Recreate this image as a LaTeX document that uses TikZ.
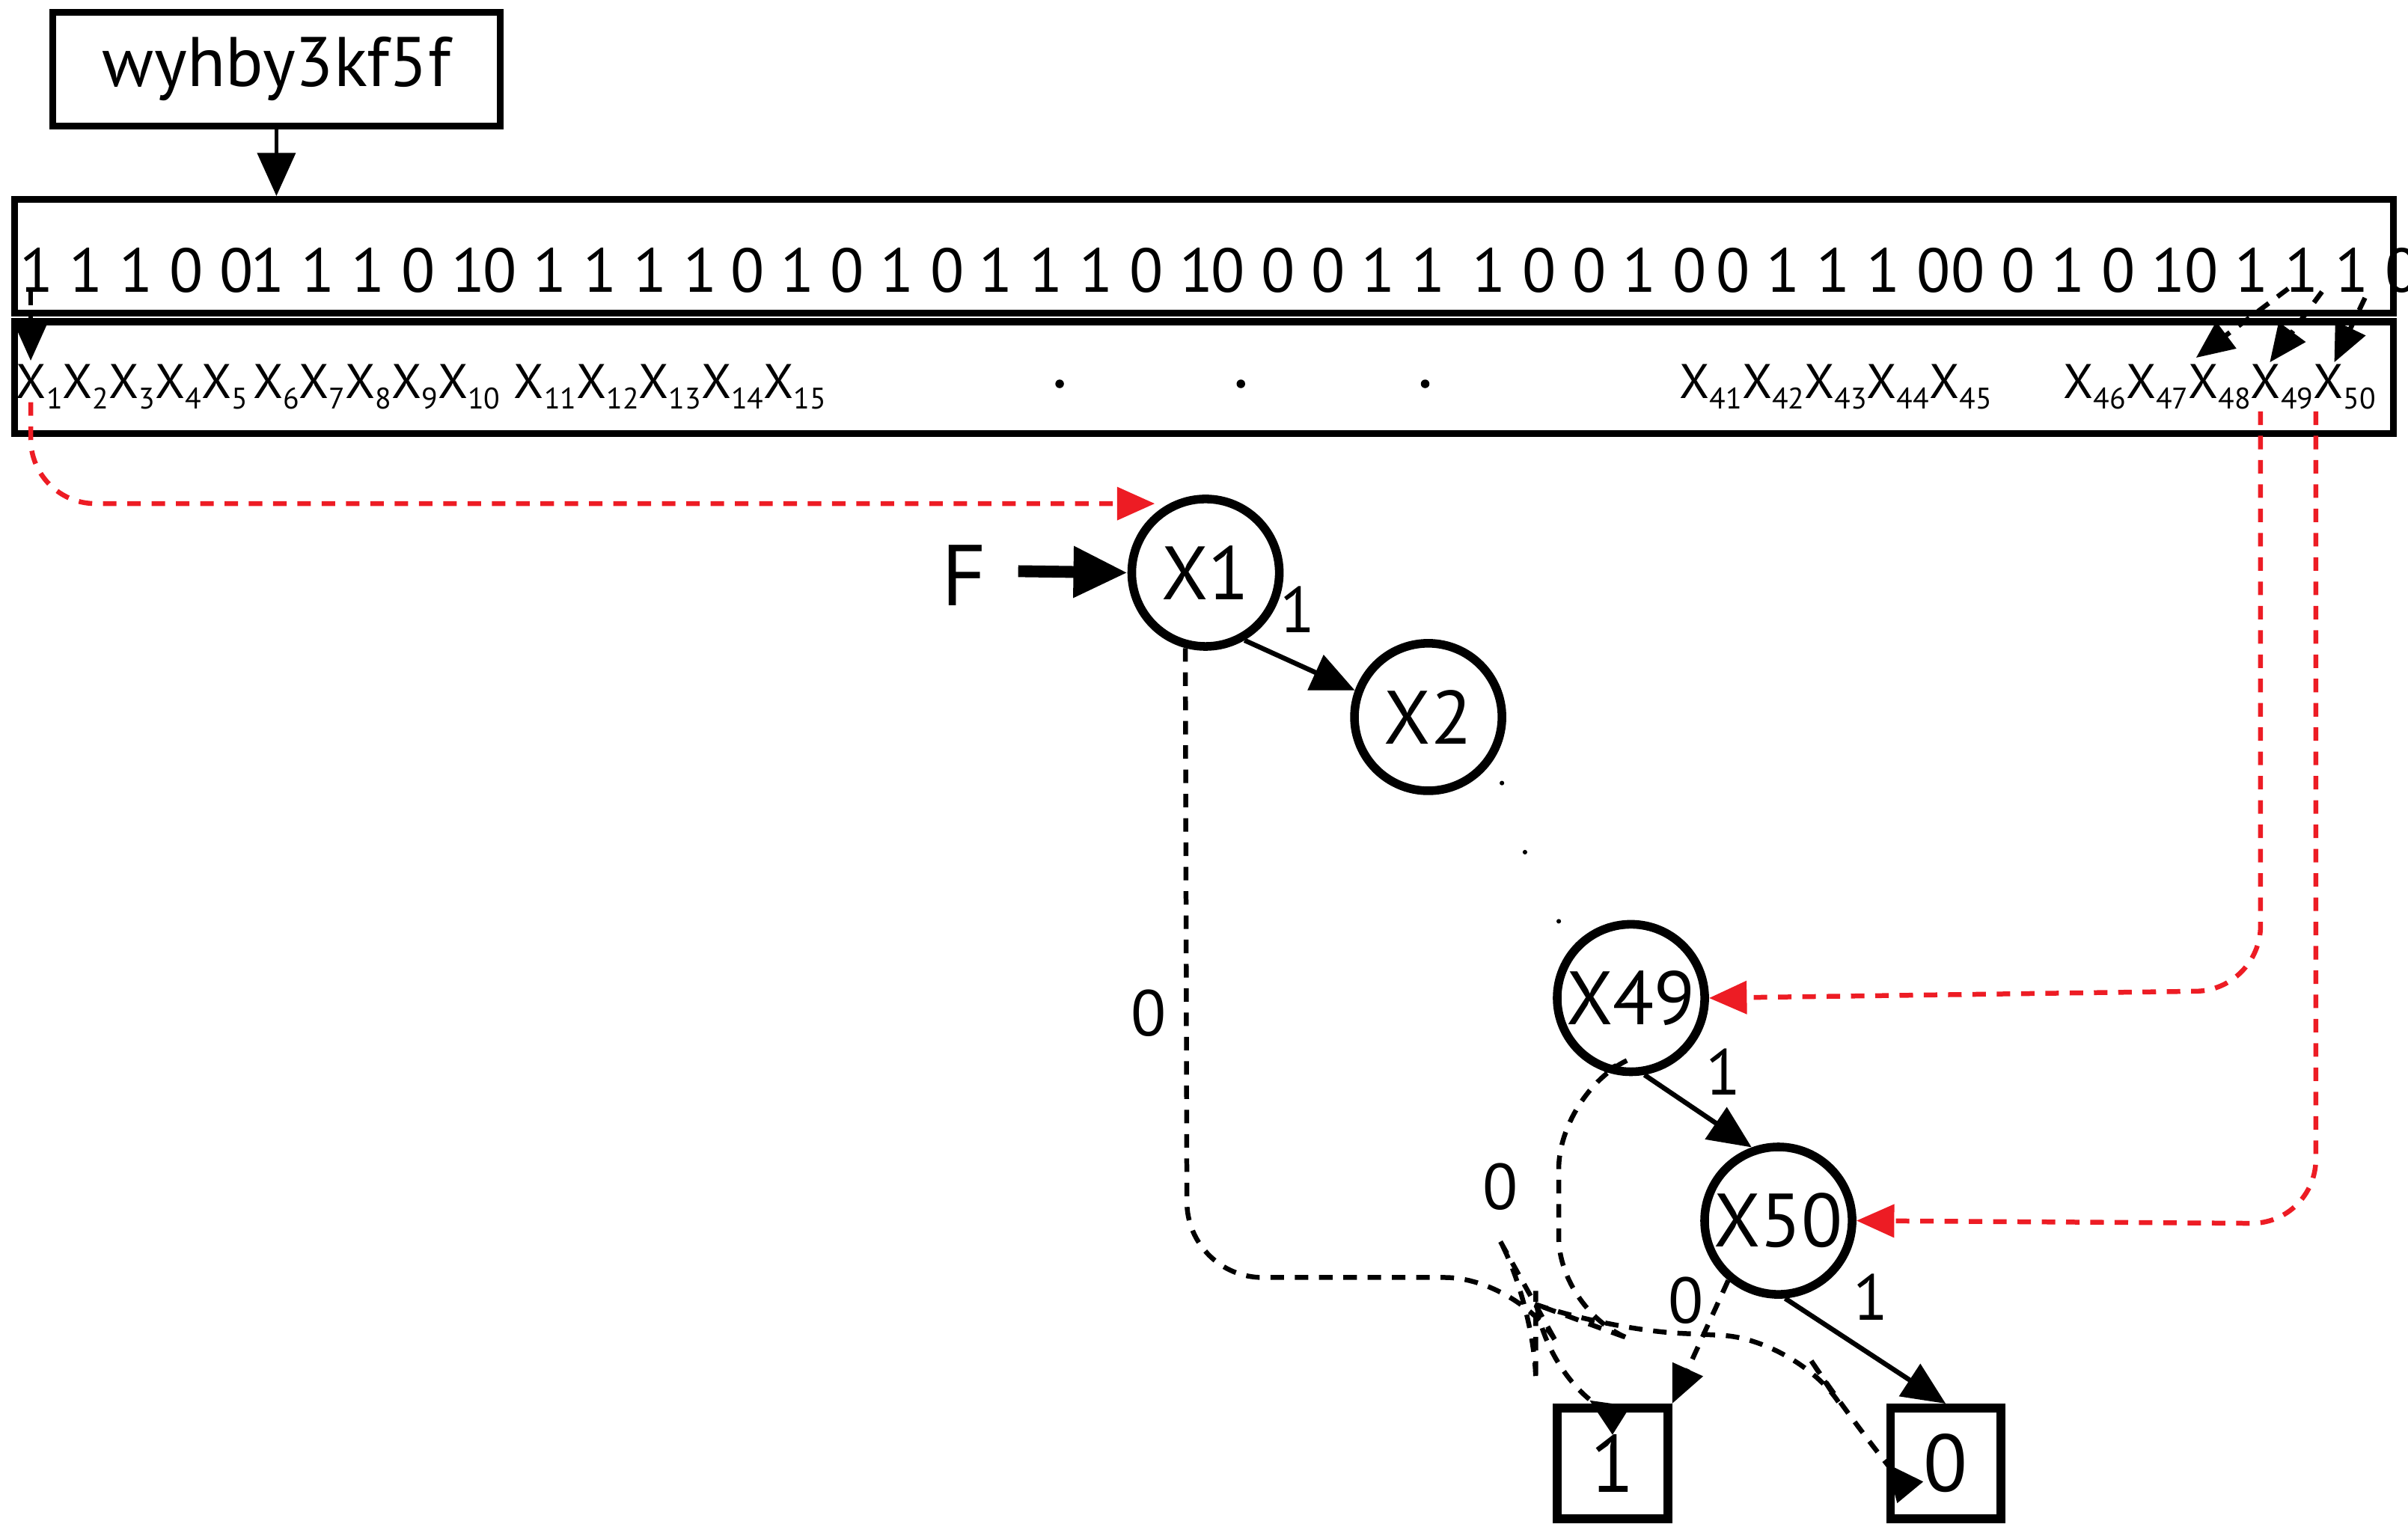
\documentclass[tikz,border=0pt]{standalone}
\usepackage{fontspec}
\setmainfont{PT Sans}
\usetikzlibrary{arrows.meta}
\definecolor{myred}{RGB}{237,28,36}
\newcommand{\xv}[1]{X\raisebox{-0.45ex}{\fontsize{5.5}{5.5}\selectfont #1}}
\newcommand{\bg}[5]{#1\kern3pt#2\kern3pt#3\kern3pt#4\kern3pt#5}
\begin{document}
\begin{tikzpicture}[x=0.01cm,y=-0.01cm,
  frame/.style={draw,line width=1.3pt},
  bnode/.style={circle,draw,line width=1.6pt,minimum size=0.96cm,inner sep=0pt,font=\fontsize{14}{14}\selectfont},
  leaf/.style={draw,line width=1.6pt,minimum size=0.72cm,inner sep=0pt,font=\fontsize{15}{15}\selectfont},
  dsh/.style={line width=0.9pt,dash pattern=on 2.5pt off 2pt,-{Triangle[length=7pt,width=6pt]}},
  rdsh/.style={line width=0.9pt,dash pattern=on 2.5pt off 2pt,draw=myred,-{Triangle[length=7pt,width=6pt,fill=myred]}},
  sld/.style={line width=0.9pt,-{Triangle[length=8pt,width=7pt]}},
  lab/.style={font=\fontsize{12}{12}\selectfont},
  bits/.style={font=\fontsize{11.5}{11.5}\selectfont,inner sep=0pt,anchor=west},
  xs/.style={font=\fontsize{9}{9}\selectfont,inner sep=0pt,anchor=west}]
\useasboundingbox (0,0) rectangle (1568,998);
\node[frame,minimum width=2.91cm,minimum height=0.74cm,font=\fontsize{13}{13}\selectfont] (key) at (180,45) {wyhby3kf5f};
\node[frame,minimum width=15.48cm,minimum height=0.74cm] (bitsbox) at (784,167) {};
\node[frame,minimum width=15.48cm,minimum height=0.73cm] (xrow) at (784,246) {};
\draw[sld,line width=0.8pt] (key.south) -- (bitsbox.north -| key.south);
\node[bits] (b1) at (12,176) {\bg11100};
\node[bits] (b2) at (163,176) {\bg11101};
\node[bits] (b3) at (314,176) {\bg01111};
\node[bits] (b4) at (475,176) {\bg01010};
\node[bits] (b5) at (637,176) {\bg11101};
\node[bits] (b6) at (788,176) {\bg00011};
\node[bits] (b7) at (958,176) {\bg10010};
\node[bits] (b8) at (1117,176) {\bg01110};
\node[bits] (b9) at (1270,176) {\bg00101};
\node[bits] (b10) at (1422,176) {\bg01110};
\node[xs] (g1) at (10,252) {\xv1\xv2\xv3\xv4\xv5};
\node[xs] (g2) at (164,252) {\xv6\xv7\xv8\xv9\xv{10}};
\node[xs] (g3) at (334,252) {\xv{11}\xv{12}\xv{13}\xv{14}\xv{15}};
\node[xs] (g4) at (1093,252) {\xv{41}\xv{42}\xv{43}\xv{44}\xv{45}};
\node[xs] (g5) at (1343,252) {\xv{46}\xv{47}\xv{48}\xv{49}\xv{50}};
\foreach \x in {690,808,928}{\fill (\x,250) circle (2.8);}
\coordinate (c1) at (20,190); \coordinate (c1b) at (20,235);
\draw[dsh] (c1) -- (c1b);
\coordinate (p1) at (1490,188); \coordinate (q1) at (1430,233);
\coordinate (p2) at (1512,190); \coordinate (q2) at (1478,236);
\coordinate (p3) at (1540,194); \coordinate (q3) at (1520,236);
\draw[dsh] (p1) -- (q1); \draw[dsh] (p2) -- (q2); \draw[dsh] (p3) -- (q3);
\node[bnode] (x1) at (785,373) {X1};
\node[bnode] (x2) at (930,467) {X2};
\node[bnode] (x49) at (1062,650) {X49};
\node[bnode] (x50) at (1158,795) {X50};
\node[leaf] (one) at (1050,953) {1};
\node[leaf] (zero) at (1267,953) {0};
\node[font=\fontsize{16}{16}\selectfont] (F) at (628,375) {F};
\coordinate (fs) at (663,372);
\draw[line width=2.2pt,-{Triangle[length=10pt,width=9pt]}] (fs) -- (x1.west);
\coordinate (r1) at (20,262);
\draw[rdsh,rounded corners=12] (r1) -- (20,328) -- (752,328);
\coordinate (r49) at (1472,268); \coordinate (r50) at (1508,268);
\draw[rdsh,rounded corners=12] (r49) -- (1472,645) -- (x49.east);
\draw[rdsh,rounded corners=12] (r50) -- (1508,797) -- (x50.east);
\draw[sld] (x1.-60) -- (x2.160);
\node[lab] at (845,397) {1};
\foreach \p in {(978,510),(993,555),(1015,600)} \fill \p circle (1.5);
\draw[dsh,rounded corners=14] (x1.-105) -- (773,832) -- (990,832) -- (1000,850) -- (1000,890) -- (1035,912);
\node[lab] at (748,660) {0};
\draw[sld] (x49.-80) -- (x50.110);
\node[lab] at (1122,698) {1};
\draw[dsh,rounded corners=14] (x49.-110) -- (1015,712) -- (1015,855) -- (1045,866) -- (1170,872) -- (1205,925) -- (zero.west);
\node[lab] at (977,773) {0};
\draw[dsh] (x50.-130) -- (one.north east);
\node[lab] at (1098,847) {0};
\draw[sld] (x50.-85) -- (zero.north);
\node[lab] at (1218,845) {1};
\end{tikzpicture}
\end{document}
